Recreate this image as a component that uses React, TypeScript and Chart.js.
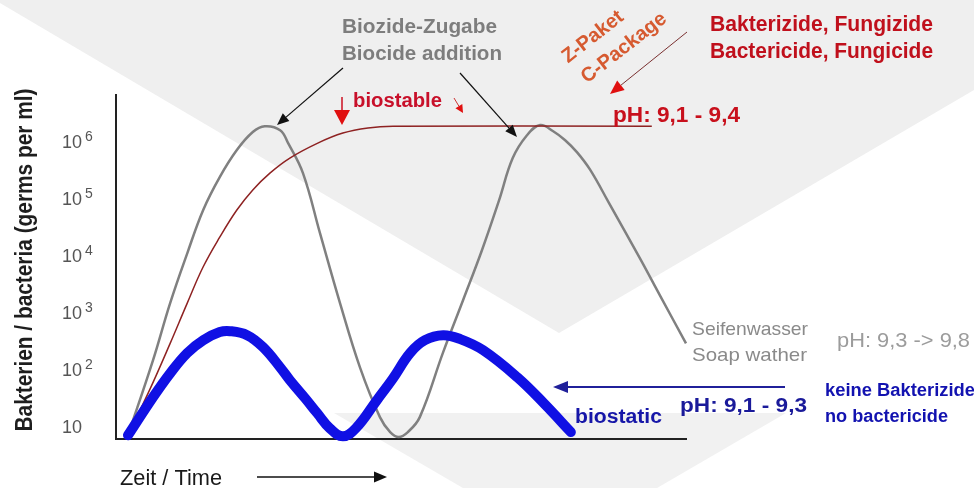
import React, { useEffect, useRef } from "react";
import { Chart, registerables } from "chart.js";

Chart.register(...registerables);

// ---- data (time in arbitrary units, germs per ml) ----
const soapTime = [2.1, 6.5, 9.5, 12.5, 15.3, 18.2, 21.2, 24.0, 26.1, 28.8, 30.2, 32.8, 35.8, 39.3, 42.8, 46.3, 48.1, 49.6, 51.2, 53.3, 57.4, 60.9, 64.2, 67.2, 69.6, 72.1, 74.4, 76.7, 78.8, 80.9, 83.2, 86.5, 91.9, 95.4, 100];
const soapGerms = [7.2, 150, 1500, 11200, 64500, 243000, 725000, 1.5e6, 1.9e6, 1.62e6, 960000, 286000, 25000, 1500, 112, 15, 8.2, 6.7, 8.2, 15, 207, 1700, 12700, 95000, 525000, 1.32e6, 2.0e6, 1.55e6, 1.08e6, 660000, 325000, 85000, 9200, 2070, 295];

const biostableTime = [2.1, 5.9, 9.5, 12.5, 15.3, 18.2, 21.2, 24.0, 27.0, 30.5, 35.4, 39.8, 44.2, 48.6, 94.0];
const biostableGerms = [7.2, 45, 295, 1500, 6500, 21500, 64500, 145000, 286000, 525000, 960000, 1.44e6, 1.77e6, 1.9e6, 1.9e6];

const biostaticTime = [2.1, 6.5, 9.5, 12.5, 15.3, 18.2, 20.0, 23.0, 25.8, 28.8, 30.5, 33.2, 35.3, 37.5, 39.8, 42.1, 45.8, 48.6, 51.6, 54.2, 57.4, 60.4, 64.4, 70.4, 75.1, 79.8];
const biostaticGerms = [7.2, 33.6, 88, 200, 335, 465, 483, 411, 253, 112, 67, 32, 17.6, 9.6, 6.9, 9.6, 30, 72, 200, 335, 410, 350, 224, 75, 26, 8.2];

const yTickValues = [10, 100, 1000, 10000, 100000, 1000000];
const yTickBases = ["10", "10", "10", "10", "10", "10"];
const yTickExponents = ["", "2", "3", "4", "5", "6"];

const yAxisTitle = "Bakterien / bacteria (germs per ml)";
const xAxisTitle = "Zeit / Time";

const FONT = '"Liberation Sans", Arial, sans-serif';
const W = 974;
const H = 488;

function toPoints(xs: number[], ys: number[]) {
  return xs.map((x, i) => ({ x, y: ys[i] }));
}

function fitText(ctx: CanvasRenderingContext2D, text: string, x: number, y: number, font: string, color: string, width?: number) {
  ctx.save();
  ctx.font = font;
  ctx.fillStyle = color;
  ctx.textAlign = "left";
  ctx.textBaseline = "alphabetic";
  ctx.translate(x, y);
  if (width) {
    const m = ctx.measureText(text).width;
    ctx.scale(width / m, 1);
  }
  ctx.fillText(text, 0, 0);
  ctx.restore();
}

function arrow(ctx: CanvasRenderingContext2D, x1: number, y1: number, x2: number, y2: number, lineColor: string, headColor: string, lw: number, headLen: number, headW: number) {
  const a = Math.atan2(y2 - y1, x2 - x1);
  const bx = x2 - headLen * Math.cos(a);
  const by = y2 - headLen * Math.sin(a);
  ctx.save();
  ctx.strokeStyle = lineColor;
  ctx.lineWidth = lw;
  ctx.beginPath();
  ctx.moveTo(x1, y1);
  ctx.lineTo(bx, by);
  ctx.stroke();
  ctx.fillStyle = headColor;
  ctx.beginPath();
  ctx.moveTo(x2, y2);
  ctx.lineTo(bx + (headW / 2) * Math.sin(a), by - (headW / 2) * Math.cos(a));
  ctx.lineTo(bx - (headW / 2) * Math.sin(a), by + (headW / 2) * Math.cos(a));
  ctx.closePath();
  ctx.fill();
  ctx.restore();
}

const decorPlugin = {
  id: "decor",
  beforeDraw(chart: any) {
    const ctx: CanvasRenderingContext2D = chart.ctx;
    ctx.save();
    ctx.fillStyle = "#ffffff";
    ctx.fillRect(0, 0, W, H);
    ctx.fillStyle = "#efefef";
    ctx.beginPath();
    ctx.moveTo(0, 0);
    ctx.lineTo(W, 0);
    ctx.lineTo(W, 90);
    ctx.lineTo(559, 333);
    ctx.lineTo(0, 3);
    ctx.closePath();
    ctx.fill();
    ctx.fillStyle = "#f1f1f1";
    ctx.beginPath();
    ctx.moveTo(334, 413);
    ctx.lineTo(786, 413);
    ctx.lineTo(657, H);
    ctx.lineTo(463, H);
    ctx.closePath();
    ctx.fill();
    ctx.restore();
  },
  afterDraw(chart: any) {
    const ctx: CanvasRenderingContext2D = chart.ctx;
    const yScale = chart.scales.y;

    // y tick labels with superscript exponents
    ctx.save();
    ctx.fillStyle = "#555555";
    ctx.textAlign = "left";
    ctx.textBaseline = "middle";
    yScale.ticks.forEach((t: any, i: number) => {
      const py = yScale.getPixelForValue(t.value);
      ctx.font = `18px ${FONT}`;
      ctx.fillText(yTickBases[i], 62, py + 1);
      if (yTickExponents[i]) {
        ctx.font = `14px ${FONT}`;
        ctx.fillText(yTickExponents[i], 85, py - 5);
      }
    });
    ctx.restore();

    // y axis title
    ctx.save();
    ctx.translate(32, (yScale.top + yScale.bottom) / 2 - 7);
    ctx.rotate(-Math.PI / 2);
    ctx.font = `bold 24px ${FONT}`;
    ctx.fillStyle = "#1e1e1e";
    ctx.textAlign = "center";
    ctx.textBaseline = "alphabetic";
    const tw = ctx.measureText(yAxisTitle).width;
    ctx.scale(343 / tw, 1);
    ctx.fillText(yAxisTitle, 0, 0);
    ctx.restore();

    // x axis title + arrow
    fitText(ctx, xAxisTitle, 120, 485, `22px ${FONT}`, "#1a1a1a", 102);
    arrow(ctx, 257, 477, 387, 477, "#111111", "#111111", 1.5, 13, 11);

    // Biocide addition
    fitText(ctx, "Biozide-Zugabe", 342, 33, `bold 21px ${FONT}`, "#7d7d7d", 155);
    fitText(ctx, "Biocide addition", 342, 60, `bold 21px ${FONT}`, "#7d7d7d", 160);
    arrow(ctx, 343, 68, 277, 125, "#111111", "#111111", 1.2, 12, 10);
    arrow(ctx, 460, 73, 517, 137, "#111111", "#111111", 1.2, 12, 10);

    // biostable
    fitText(ctx, "biostable", 353, 107, `bold 20px ${FONT}`, "#c8102a", 89);
    arrow(ctx, 342, 97, 342, 125, "#cc1122", "#e01010", 1.5, 15, 16);
    arrow(ctx, 454, 98, 463, 113, "#cc3333", "#e01010", 1, 8, 8);

    // Z-Paket / C-Package
    ctx.save();
    ctx.font = `bold 20px ${FONT}`;
    ctx.fillStyle = "#d65a30";
    ctx.textAlign = "center";
    ctx.textBaseline = "middle";
    ctx.translate(593, 37);
    ctx.rotate((-38 * Math.PI) / 180);
    ctx.fillText("Z-Paket", 0, 0);
    ctx.restore();
    ctx.save();
    ctx.font = `bold 20px ${FONT}`;
    ctx.fillStyle = "#d65a30";
    ctx.textAlign = "center";
    ctx.textBaseline = "middle";
    ctx.translate(624, 48);
    ctx.rotate((-38 * Math.PI) / 180);
    ctx.fillText("C-Package", 0, 0);
    ctx.restore();
    arrow(ctx, 687, 32, 610, 94, "#7a3030", "#e01010", 1, 14, 12);

    // Bactericide, Fungicide
    fitText(ctx, "Bakterizide, Fungizide", 710, 31, `bold 22px ${FONT}`, "#c0101c", 223);
    fitText(ctx, "Bactericide, Fungicide", 710, 58, `bold 22px ${FONT}`, "#c0101c", 223);
    fitText(ctx, "pH: 9,1 - 9,4", 613, 122, `bold 22px ${FONT}`, "#c8101c", 127);

    // Soap water
    fitText(ctx, "Seifenwasser", 692, 335, `19px ${FONT}`, "#8a8a8a", 116);
    fitText(ctx, "Soap wather", 692, 361, `19px ${FONT}`, "#8a8a8a", 115);
    fitText(ctx, "pH: 9,3 -> 9,8", 837, 347, `21px ${FONT}`, "#9c9c9c", 133);

    // biostatic
    arrow(ctx, 785, 387, 553, 387, "#20209a", "#20209a", 2, 15, 12);
    fitText(ctx, "pH: 9,1 - 9,3", 680, 412, `bold 20px ${FONT}`, "#1a1a9a", 127);
    fitText(ctx, "biostatic", 575, 423, `bold 20px ${FONT}`, "#1616a8", 87);
    fitText(ctx, "keine Bakterizide", 825, 396, `bold 18px ${FONT}`, "#1212b0", 150);
    fitText(ctx, "no bactericide", 825, 422, `bold 18px ${FONT}`, "#1212b0", 123);
  },
};

export default function App() {
  const canvasRef = useRef<HTMLCanvasElement | null>(null);

  useEffect(() => {
    if (!canvasRef.current) return;
    const chart = new Chart(canvasRef.current, {
      type: "line",
      data: {
        datasets: [
          {
            label: "biostatic",
            data: toPoints(biostaticTime, biostaticGerms),
            borderColor: "#1010e4",
            borderWidth: 10,
            borderCapStyle: "round",
            borderJoinStyle: "round",
            pointRadius: 0,
            tension: 0.4,
            order: 0,
            clip: false,
          },
          {
            label: "biostable",
            data: toPoints(biostableTime, biostableGerms),
            borderColor: "#8e2222",
            borderWidth: 1.5,
            pointRadius: 0,
            tension: 0.4,
            order: 1,
            clip: false,
          },
          {
            label: "soap water",
            data: toPoints(soapTime, soapGerms),
            borderColor: "#808080",
            borderWidth: 2.5,
            pointRadius: 0,
            tension: 0.4,
            order: 2,
            clip: false,
          },
        ],
      } as any,
      options: {
        responsive: false,
        animation: false,
        layout: { padding: { left: 116, right: 288, top: 95, bottom: 49 } },
        plugins: { legend: { display: false }, tooltip: { enabled: false } },
        scales: {
          x: {
            type: "linear",
            min: 0,
            max: 100,
            grid: { display: false },
            ticks: { display: false },
            border: { display: true, color: "#222222", width: 2 },
            afterFit: (s: any) => {
              s.height = 0;
            },
          },
          y: {
            type: "logarithmic",
            min: 6.2,
            max: 6.7e6,
            bounds: "data",
            grid: { display: false },
            ticks: { display: false },
            border: { display: true, color: "#222222", width: 2 },
            afterBuildTicks: (s: any) => {
              s.ticks = yTickValues.map((v) => ({ value: v }));
            },
            afterFit: (s: any) => {
              s.width = 0;
            },
          },
        },
      } as any,
      plugins: [decorPlugin],
    });
    return () => chart.destroy();
  }, []);

  return (
    <div style={{ position: "absolute", left: 0, top: 0, width: W, height: H }}>
      <canvas ref={canvasRef} width={W} height={H} style={{ display: "block", width: W, height: H }} />
    </div>
  );
}
